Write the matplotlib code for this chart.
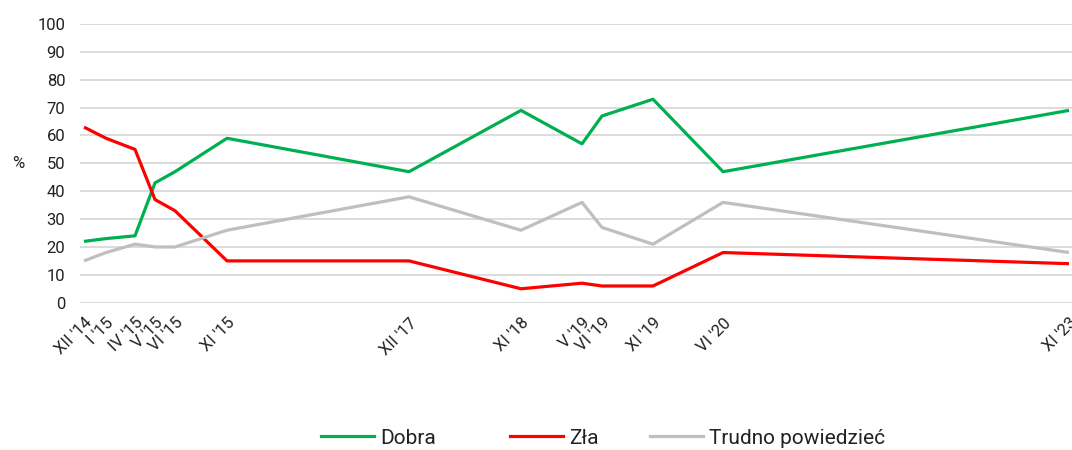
import matplotlib.pyplot as plt
from matplotlib.lines import Line2D

plt.rcParams['font.family'] = ['Roboto', 'DejaVu Sans']

# survey waves and their position along the x axis (uneven spacing, as in the source)
labels = ["XII '14", "I '15", "IV '15", "V '15", "VI '15", "XI '15", "XII '17",
          "XI '18", "V '19", "VI '19", "XI '19", "VI '20", "XI '23"]
x_pos = [84, 106, 135, 155, 175, 227, 409, 521, 582, 602, 653, 723, 1069]

dobra = [22, 23, 24, 43, 47, 59, 47, 69, 57, 67, 73, 47, 69]
zla = [63, 59, 55, 37, 33, 15, 15, 5, 7, 6, 6, 18, 14]
trudno = [15, 18, 21, 20, 20, 26, 38, 26, 36, 27, 21, 36, 18]

series = [('Dobra', dobra, '#00B050'),
          ('Zła', zla, '#FF0000'),
          ('Trudno powiedzieć', trudno, '#BFBFBF')]

fig = plt.figure(figsize=(10.72, 4.5), dpi=100)
ax = fig.add_axes([80 / 1072, 1 - 302.7 / 450, 992 / 1072, (302.7 - 24) / 450])

for name, vals, col in series:
    ax.plot(x_pos, vals, color=col, lw=2.3, label=name, solid_capstyle='butt')

ax.set_xlim(80, 1072)
ax.set_ylim(0, 100)
ax.set_yticks(range(0, 101, 10))
ax.grid(axis='y', color='#D9D9D9', lw=1.3)
ax.set_axisbelow(True)
for s in ax.spines.values():
    s.set_visible(False)
ax.tick_params(length=0, labelsize=12, colors='#222222')
ax.tick_params(axis='y', pad=10.5)

ax.set_xticks(x_pos)
ax.set_xticklabels(labels, rotation=45, ha='right', rotation_mode='anchor', va='top')
ax.tick_params(axis='x', pad=9)

ax.text(-62 / 992, 0.5, '%', transform=ax.transAxes, ha='center', va='center',
        fontsize=12, color='#222222')

# legend entries are spaced unevenly in the source, so place them one by one
leg_x = [321, 510, 650]
for (name, vals, col), lx in zip(series, leg_x):
    h = Line2D([], [], color=col, lw=2.3)
    lg = fig.legend([h], [name], loc='center left', bbox_to_anchor=(lx / 1072, 1 - 438 / 450),
                    frameon=False, fontsize=15, handlelength=2.55, handletextpad=0.3,
                    borderpad=0, borderaxespad=0)
    for t in lg.get_texts():
        t.set_color('#222222')

plt.savefig('out.png', dpi=100)
